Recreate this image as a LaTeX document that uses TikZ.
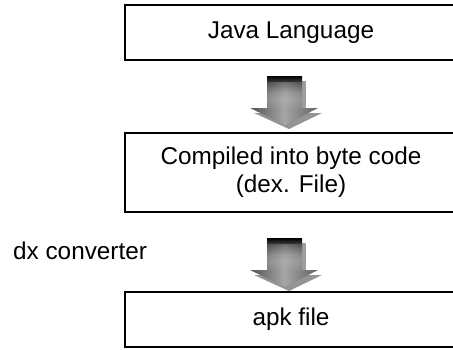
\documentclass[tikz,border=0pt]{standalone}
\usepackage{fontspec}
\setmainfont{Liberation Sans}
% shaft of the block arrows: dark at the top, fading to grey
\pgfdeclareverticalshading{shaftshade}{100bp}{%
  color(0bp)=(black!42); color(25bp)=(black!42); color(40bp)=(black!34);
  color(50bp)=(black!42); color(60bp)=(black!62); color(68bp)=(black!82);
  color(75bp)=(black); color(100bp)=(black)}
\begin{document}
\begin{tikzpicture}[x=1pt,y=-1pt,
  stagebox/.style={draw=black, line width=1.3pt, fill=white, minimum width=332pt,
    inner sep=0pt, align=center, font=\fontsize{24.3}{28}\selectfont},
  lbl/.style={font=\fontsize{24.3}{28}\selectfont, inner sep=0pt, anchor=base west}]
  \useasboundingbox (0,0) rectangle (453,349);

  % shaded block arrow pointing down; #1 = top centre of the shaft
  \newcommand\blockarrow[1]{%
    \begin{scope}[shift={(#1)}]
      % offset shadow
      \fill[black!38] (-14,5) rectangle (21,36);
      \fill[black!42] (-31,37) -- (37,37) -- (4,53) -- cycle;
      % shaft
      \shade[shading=shaftshade] (-18,0) rectangle (17,33);
      \shade[left color=black!60, right color=black!55, middle color=black!28, opacity=0.4]
        (-18,6) rectangle (17,33);
      % head
      \shade[left color=black!68, right color=black!62, middle color=black!35]
        (-35,32) -- (33,32) -- (0,49) -- cycle;
    \end{scope}}

  \node[stagebox, minimum height=55pt] (java) at (291,32.5) {Java Language};
  \node[stagebox, minimum height=79pt] (dex) at (291,172.5)
    {Compiled into byte code\\(dex. File)};
  \node[stagebox, minimum height=55pt] (apk) at (291,319.5) {apk file};

  \coordinate (a1) at (285,76);
  \coordinate (a2) at (285,238);
  \blockarrow{a1}
  \blockarrow{a2}

  \node[lbl] (dx) at (13,259) {dx converter};
\end{tikzpicture}
\end{document}
